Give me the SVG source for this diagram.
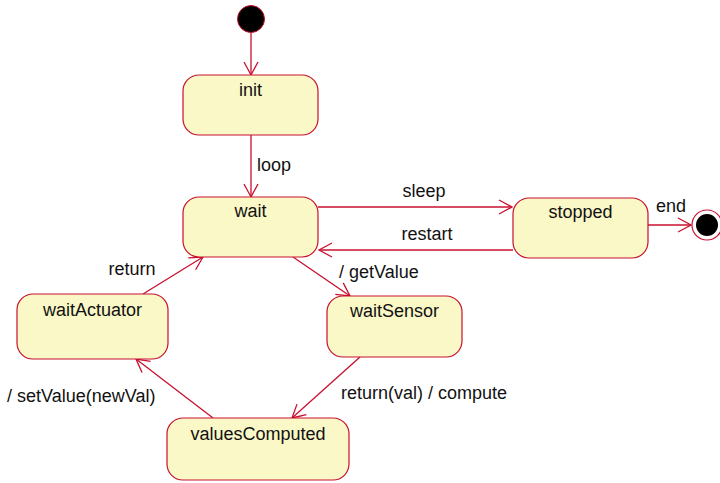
<svg xmlns="http://www.w3.org/2000/svg" width="720" height="483" viewBox="0 0 720 483">
<style>
.st{fill:#FAF8C7;stroke:#C8102E;stroke-width:1.2}
.t{font-family:"Liberation Sans",Arial,sans-serif;font-size:18px;fill:#111}
.c{text-anchor:middle}
.e{fill:none;stroke:#C8102E;stroke-width:1.3}
</style>
<defs>
<marker id="ar" markerUnits="userSpaceOnUse" markerWidth="20" markerHeight="20" viewBox="-14 -10 16 20" refX="0" refY="0" orient="auto">
<path d="M-13,-7 L0,0 L-13,7" fill="none" stroke="#C8102E" stroke-width="1.3"/>
</marker>
</defs>
<g id="connectors">
<line class="e" x1="251" y1="33" x2="251" y2="75" marker-end="url(#ar)"/>
<line class="e" x1="251" y1="135" x2="251" y2="197" marker-end="url(#ar)"/>
<text class="t" x="257" y="171">loop</text>
<line class="e" x1="318" y1="207" x2="512" y2="207" marker-end="url(#ar)"/>
<text class="t c" x="424" y="197">sleep</text>
<line class="e" x1="513" y1="250" x2="319" y2="250" marker-end="url(#ar)"/>
<text class="t c" x="427" y="240">restart</text>
<line class="e" x1="648" y1="225" x2="691" y2="225" marker-end="url(#ar)"/>
<text class="t" x="656" y="212">end</text>
<line class="e" x1="293" y1="257" x2="350" y2="296" marker-end="url(#ar)"/>
<text class="t" x="339" y="278">/ getValue</text>
<line class="e" x1="360" y1="357" x2="292" y2="418" marker-end="url(#ar)"/>
<text class="t" x="341" y="399">return(val) / compute</text>
<line class="e" x1="213" y1="418" x2="136" y2="359" marker-end="url(#ar)"/>
<text class="t" x="7" y="402">/ setValue(newVal)</text>
<line class="e" x1="143" y1="294" x2="203" y2="257" marker-end="url(#ar)"/>
<text class="t c" x="132" y="275">return</text>
</g>
<g id="start"><circle cx="251" cy="19" r="13.5" fill="#000" stroke="#C8102E" stroke-width="1"/></g>
<g id="init"><rect class="st" x="183" y="75" width="135" height="60" rx="16"/><text class="t c" x="250.5" y="96">init</text></g>
<g id="wait"><rect class="st" x="183" y="197" width="135" height="60" rx="16"/><text class="t c" x="250.5" y="217">wait</text></g>
<g id="stopped"><rect class="st" x="513" y="198" width="135" height="60" rx="16"/><text class="t c" x="580.5" y="218">stopped</text></g>
<g id="final"><circle cx="707" cy="225" r="15" fill="#fff" stroke="#C8102E" stroke-width="1.2"/><circle cx="707" cy="225" r="11" fill="#000"/></g>
<g id="waitActuator"><rect class="st" x="17" y="294" width="151" height="65" rx="16"/><text class="t c" x="92.5" y="316">waitActuator</text></g>
<g id="waitSensor"><rect class="st" x="327" y="296" width="135" height="61" rx="16"/><text class="t c" x="394.5" y="317">waitSensor</text></g>
<g id="valuesComputed"><rect class="st" x="167" y="418" width="182" height="62" rx="16"/><text class="t c" x="258" y="440">valuesComputed</text></g>
</svg>
